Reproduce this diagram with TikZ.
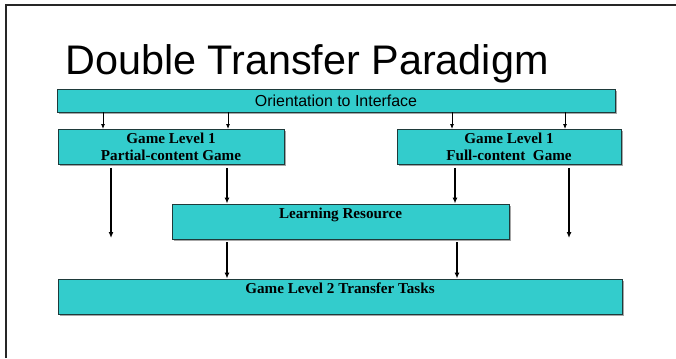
\documentclass[tikz,border=0pt]{standalone}
\usepackage{fontspec}
\setmainfont{Liberation Serif}
\newfontfamily\arialfont{Liberation Sans}
\usetikzlibrary{arrows.meta,shadows}
\definecolor{boxfill}{HTML}{33CCCC}
\definecolor{boxline}{HTML}{1E3A3A}
\begin{document}
\begin{tikzpicture}[x=1bp, y=-1bp,
    box/.style={draw=boxline, line width=0.9bp, fill=boxfill, inner sep=0pt,
        drop shadow={shadow xshift=1.8bp, shadow yshift=-1.8bp, fill=gray!70, opacity=1}},
    boxtext/.style={font=\bfseries\fontsize{15.2}{17.5}\selectfont, align=center},
    thinarr/.style={-{Latex[length=5bp,width=4bp]}, line width=0.9bp},
    thickarr/.style={-{Latex[length=6bp,width=5bp]}, line width=1.3bp}]
    \useasboundingbox (0,0) rectangle (676,358);
    % Slide frame
    \draw[line width=1.6bp, black!85] (6,358) -- (6,5) -- (676,5);
    % Title
    \node[anchor=base west, inner sep=0pt, font=\arialfont\fontsize{41.5}{41.5}\selectfont] (title) at (65,74) {Double Transfer Paradigm};
    % Boxes
    \node[box, minimum width=558bp, minimum height=23bp, font=\arialfont\fontsize{16}{16}\selectfont] (orient) at (336,100.5) {Orientation to Interface};
    \node[box, boxtext, minimum width=226bp, minimum height=35bp] (gamepart) at (171,147) {Game Level 1\\Partial-content Game};
    \node[box, boxtext, minimum width=224bp, minimum height=35bp] (gamefull) at (509,147) {Game Level 1\\Full-content\ \ Game};
    \node[box, minimum width=337bp, minimum height=35bp,
        label={[boxtext, anchor=north, yshift=-1bp]north:Learning Resource}] (learn) at (340.5,221.5) {};
    \node[box, minimum width=564bp, minimum height=35bp,
        label={[boxtext, anchor=north, yshift=-1bp]north:Game Level 2 Transfer Tasks}] (transfer) at (340,296.5) {};
    % Free arrow ends
    \coordinate (endpart) at (111,238);
    \coordinate (endfull) at (569,238);
    % Arrows from orientation
    \foreach \x/\target in {103/gamepart, 228/gamepart, 452/gamefull, 565/gamefull} {
        \draw[thinarr] (\x,0 |- orient.south) -- (\x,0 |- \target.north);
    }
    % Arrows from level 1 games
    \draw[thickarr] (111,0 |- gamepart.south) ++(0,3) -- (endpart);
    \draw[thickarr] (227,0 |- gamepart.south) ++(0,3) -- (227,0 |- learn.north);
    \draw[thickarr] (455,0 |- gamefull.south) ++(0,3) -- (455,0 |- learn.north);
    \draw[thickarr] (569,0 |- gamefull.south) ++(0,3) -- (endfull);
    % Arrows to level 2
    \draw[thickarr] (227,0 |- learn.south) ++(0,3) -- (227,0 |- transfer.north);
    \draw[thickarr] (457,0 |- learn.south) ++(0,3) -- (457,0 |- transfer.north);
\end{tikzpicture}
\end{document}
